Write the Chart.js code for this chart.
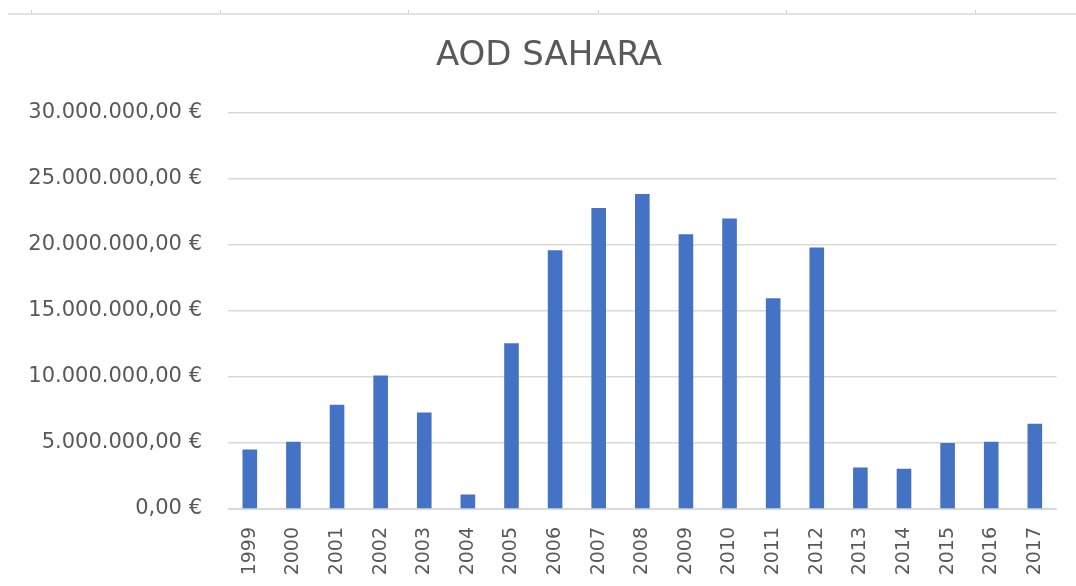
<!DOCTYPE html>
<html lang="es">
<head>
    <meta charset="UTF-8">
    <title>AOD SAHARA</title>
    <script src="https://cdn.jsdelivr.net/npm/chart.js@4.4.1/dist/chart.umd.min.js"></script>
    <style>
        html, body { margin: 0; padding: 0; background: #fff; }
        #wrap { position: relative; width: 1076px; height: 586px; }
        #topline { position: absolute; left: 8px; right: 0; top: 13px; height: 0; border-top: 2px solid #e2e2e2; }
        .tk { position: absolute; top: 10px; width: 1px; height: 3px; background: #cfcfcf; }
        canvas { position: absolute; left: 0; top: 0; }
    </style>
</head>
<body>
<div id="wrap">
    <div id="topline"></div>
    <div class="tk" style="left:31px"></div>
    <div class="tk" style="left:220px"></div>
    <div class="tk" style="left:408px"></div>
    <div class="tk" style="left:598px"></div>
    <div class="tk" style="left:786px"></div>
    <div class="tk" style="left:975px"></div>
    <canvas id="chart" width="1076" height="586"></canvas>
</div>
<script>
    // años y ayudas (euros)
    const years = ['1999', '2000', '2001', '2002', '2003', '2004', '2005', '2006', '2007', '2008',
                   '2009', '2010', '2011', '2012', '2013', '2014', '2015', '2016', '2017'];
    const aod = [4500000, 5100000, 7900000, 10100000, 7300000, 1100000, 12550000, 19600000, 22800000, 23850000,
                 20800000, 22000000, 15950000, 19800000, 3150000, 3050000, 5000000, 5100000, 6450000];
    const yTicks = [0, 5000000, 10000000, 15000000, 20000000, 25000000, 30000000];

    function euro(v) {
        const s = String(Math.round(v)).replace(/\B(?=(\d{3})+(?!\d))/g, '.');
        return s + ',00 €';
    }

    // el título en Excel está algo desplazado a la derecha
    const shiftTitle = {
        id: 'shiftTitle',
        afterLayout(chart) {
            if (chart.titleBlock) chart.titleBlock.left += 36;
        }
    };

    const grey = '#595959';
    const ctx = document.getElementById('chart').getContext('2d');
    new Chart(ctx, {
        type: 'bar',
        data: {
            labels: years,
            datasets: [{
                label: 'AOD',
                data: aod,
                backgroundColor: '#4472C4',
                categoryPercentage: 1,
                barPercentage: 0.335
            }]
        },
        options: {
            responsive: false,
            animation: false,
            layout: { padding: { left: 0, right: 14, top: 0, bottom: 0 } },
            plugins: {
                legend: { display: false },
                tooltip: { enabled: false },
                title: {
                    display: true,
                    text: 'AOD SAHARA',
                    color: grey,
                    font: { family: 'DejaVu Sans', size: 34, weight: 'normal' },
                    padding: { top: 36, bottom: 36 }
                }
            },
            scales: {
                x: {
                    grid: { display: false, drawTicks: false },
                    border: { color: '#d9d9d9' },
                    ticks: {
                        color: grey,
                        font: { family: 'DejaVu Sans', size: 19 },
                        minRotation: 90,
                        maxRotation: 90,
                        padding: 18
                    },
                    afterFit: function (s) { s.height = 77; }
                },
                y: {
                    min: 0,
                    max: 30000000,
                    grid: { color: '#d9d9d9', lineWidth: 1.5, drawTicks: false },
                    border: { display: false },
                    afterBuildTicks: function (s) { s.ticks = yTicks.map(v => ({ value: v })); },
                    ticks: {
                        color: grey,
                        font: { family: 'DejaVu Sans', size: 21 },
                        padding: 26,
                        callback: function (v) { return euro(v); }
                    },
                    afterFit: function (s) { s.width = 228; }
                }
            }
        },
        plugins: [shiftTitle]
    });
</script>
</body>
</html>
